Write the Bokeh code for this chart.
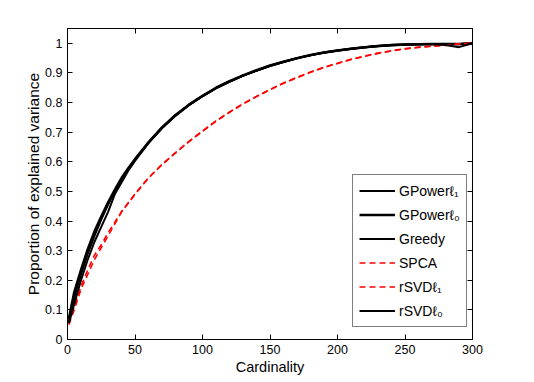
from bokeh.plotting import figure
from bokeh.models import (LinearAxis, FixedTicker, CustomJSTickFormatter, Range1d,
                          Legend, LegendItem)
from bokeh.embed import file_html
from bokeh.resources import INLINE

# ---- data ----
cardinality = [1, 5, 10, 15, 20, 25, 30, 35, 40, 45, 50,
               60, 70, 80, 90, 100, 110, 120, 130, 140, 150,
               160, 170, 180, 190, 200, 210, 220, 230, 240, 250,
               260, 270, 280, 290, 300]

gpower_l1 = [0.060, 0.140, 0.220, 0.290, 0.350, 0.405, 0.455, 0.500, 0.540, 0.575, 0.607,
             0.665, 0.715, 0.757, 0.792, 0.822, 0.849, 0.871, 0.891, 0.908, 0.924,
             0.938, 0.950, 0.960, 0.969, 0.976, 0.982, 0.987, 0.991, 0.994, 0.996,
             0.997, 0.998, 0.998, 0.997, 1.000]
gpower_l0 = [0.070, 0.160, 0.235, 0.305, 0.365, 0.415, 0.462, 0.505, 0.545, 0.578, 0.609,
             0.666, 0.716, 0.758, 0.793, 0.823, 0.850, 0.872, 0.892, 0.909, 0.925,
             0.938, 0.950, 0.961, 0.969, 0.976, 0.982, 0.987, 0.991, 0.994, 0.996,
             0.997, 0.998, 0.998, 0.998, 1.000]
greedy = [0.060, 0.150, 0.225, 0.295, 0.355, 0.410, 0.458, 0.502, 0.542, 0.576, 0.608,
          0.665, 0.715, 0.757, 0.792, 0.822, 0.849, 0.871, 0.891, 0.908, 0.924,
          0.937, 0.950, 0.960, 0.969, 0.976, 0.982, 0.987, 0.991, 0.994, 0.996,
          0.997, 0.998, 0.997, 0.998, 1.000]
rsvd_l0 = [0.055, 0.120, 0.200, 0.270, 0.330, 0.380, 0.430, 0.490, 0.530, 0.570, 0.603,
           0.663, 0.713, 0.755, 0.791, 0.821, 0.848, 0.870, 0.890, 0.907, 0.923,
           0.937, 0.949, 0.960, 0.968, 0.975, 0.981, 0.986, 0.990, 0.993, 0.995,
           0.997, 0.997, 0.994, 0.987, 1.000]
spca = [0.050, 0.100, 0.170, 0.220, 0.270, 0.310, 0.350, 0.390, 0.430, 0.460, 0.490,
        0.545, 0.590, 0.630, 0.668, 0.703, 0.737, 0.767, 0.795, 0.820, 0.843,
        0.865, 0.884, 0.902, 0.918, 0.932, 0.945, 0.956, 0.966, 0.974, 0.981,
        0.986, 0.990, 0.993, 0.998, 1.000]
rsvd_l1 = [0.055, 0.110, 0.180, 0.235, 0.285, 0.320, 0.360, 0.395, 0.432, 0.462, 0.492,
           0.546, 0.591, 0.631, 0.669, 0.704, 0.738, 0.768, 0.796, 0.821, 0.844,
           0.866, 0.885, 0.903, 0.919, 0.933, 0.946, 0.957, 0.967, 0.975, 0.982,
           0.987, 0.991, 0.994, 0.998, 1.000]

x_ticks = [0, 50, 100, 150, 200, 250, 300]
y_ticks = [0, 0.1, 0.2, 0.3, 0.4, 0.5, 0.6, 0.7, 0.8, 0.9, 1.0]

FONT = "Liberation Sans"

p = figure(width=534, height=382, output_backend="svg", toolbar_location=None,
           x_range=Range1d(0, 300), y_range=Range1d(0, 1.05),
           min_border_left=67, min_border_right=62, min_border_top=28, min_border_bottom=43,
           x_axis_label="Cardinality", y_axis_label="Proportion of explained variance")
p.grid.visible = False
p.outline_line_color = "black"
p.outline_line_width = 1
p.background_fill_color = "white"
p.border_fill_color = "white"

fmt = CustomJSTickFormatter(code="return (Math.round(tick*10)/10).toString();")
blank = CustomJSTickFormatter(code="return '';")

for ax in p.xaxis:
    ax.ticker = FixedTicker(ticks=x_ticks)
    ax.axis_label_standoff = 2
    ax.axis_label_text_font_size = "14.5px"
for ax in p.yaxis:
    ax.ticker = FixedTicker(ticks=y_ticks)
    ax.formatter = fmt
    ax.axis_label_standoff = 0
    ax.axis_label_text_font_size = "15.5px"

for ax in list(p.xaxis) + list(p.yaxis):
    ax.major_tick_in = 5
    ax.major_tick_out = 0
    ax.minor_tick_line_color = None
    ax.axis_line_color = "black"
    ax.major_tick_line_color = "black"
    ax.major_label_text_font = FONT
    ax.major_label_text_font_size = "12.5px"
    ax.major_label_text_color = "black"
    ax.axis_label_text_font = FONT
    ax.axis_label_text_font_style = "normal"
    ax.axis_label_text_color = "black"
    ax.major_label_standoff = 5

# mirrored tick marks on top and right (no labels)
top = LinearAxis(ticker=FixedTicker(ticks=x_ticks), formatter=blank,
                 major_tick_in=5, major_tick_out=0,
                 minor_tick_line_color=None, major_label_standoff=0,
                 axis_line_color="black")
right = LinearAxis(ticker=FixedTicker(ticks=y_ticks), formatter=blank,
                   major_tick_in=5, major_tick_out=0,
                   minor_tick_line_color=None, major_label_standoff=0,
                   axis_line_color="black")
p.add_layout(top, "above")
p.add_layout(right, "right")

r1 = p.line(cardinality, gpower_l1, line_color="black", line_width=2)
r2 = p.line(cardinality, gpower_l0, line_color="black", line_width=2.5)
r3 = p.line(cardinality, greedy, line_color="black", line_width=2)
r4 = p.line(cardinality, spca, line_color="red", line_width=1.6, line_dash="6 4")
r5 = p.line(cardinality, rsvd_l1, line_color="red", line_width=1.6, line_dash="6 4")
r6 = p.line(cardinality, rsvd_l0, line_color="black", line_width=2)

legend = Legend(items=[
    LegendItem(label="GPowerℓ₁", renderers=[r1]),
    LegendItem(label="GPowerℓ₀", renderers=[r2]),
    LegendItem(label="Greedy", renderers=[r3]),
    LegendItem(label="SPCA", renderers=[r4]),
    LegendItem(label="rSVDℓ₁", renderers=[r5]),
    LegendItem(label="rSVDℓ₀", renderers=[r6]),
], location=(285, 12))
legend.border_line_color = "black"
legend.border_line_width = 1
legend.background_fill_alpha = 1
legend.padding = 6
legend.spacing = 5
legend.margin = 0
legend.glyph_width = 36
legend.glyph_height = 19
legend.label_height = 19
legend.label_standoff = 4
legend.label_text_font = FONT
legend.label_text_font_size = "14px"
legend.label_text_color = "black"
p.add_layout(legend, "center")

open("out.html", "w").write(file_html(p, INLINE))
